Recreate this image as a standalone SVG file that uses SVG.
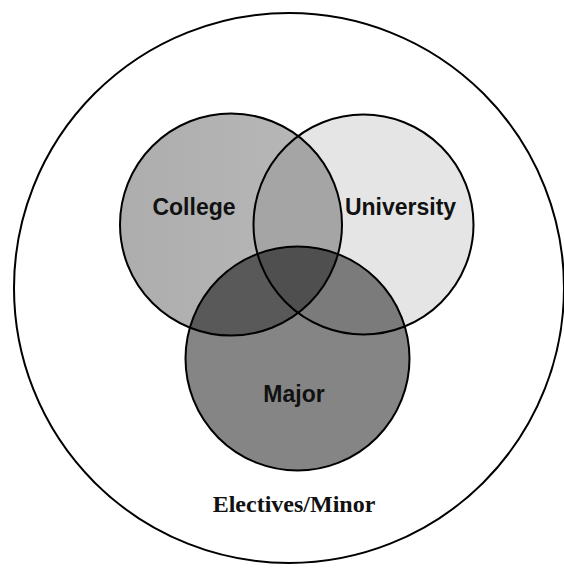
<svg xmlns="http://www.w3.org/2000/svg" width="564" height="568" viewBox="0 0 564 568">
  <style>
    .ring { fill: none; stroke: #000; stroke-width: 2; }
    .lbl { font-family: "Liberation Sans", Arial, sans-serif; font-weight: bold; font-size: 23px; fill: #111; text-anchor: middle; }
    .outer-lbl { font-family: "Liberation Serif", "Times New Roman", serif; font-weight: bold; font-size: 24px; fill: #111; text-anchor: middle; }
  </style>
  <defs>
    <linearGradient id="gCollege" x1="0" y1="0" x2="1" y2="0">
      <stop offset="0" stop-color="#adadad"/>
      <stop offset="1" stop-color="#b9b9b9"/>
    </linearGradient>
    <clipPath id="cC"><circle cx="231" cy="224.5" r="111"/></clipPath>
    <clipPath id="cU"><circle cx="363.5" cy="224.5" r="110"/></clipPath>
    <clipPath id="cM"><circle cx="297.5" cy="358.5" r="112"/></clipPath>
  </defs>
  <rect width="564" height="568" fill="#fff"/>
  <g id="electives">
    <circle cx="289" cy="288" r="275" class="ring"/>
    <text x="294" y="512" class="outer-lbl">Electives/Minor</text>
  </g>
  <g id="college">
    <circle cx="231" cy="224.5" r="111" fill="url(#gCollege)"/>
  </g>
  <g id="university">
    <circle cx="363.5" cy="224.5" r="110" fill="#e5e5e5"/>
    <circle cx="363.5" cy="224.5" r="110" fill="#a5a5a5" clip-path="url(#cC)"/>
  </g>
  <g id="major">
    <circle cx="297.5" cy="358.5" r="112" fill="#858585"/>
    <g clip-path="url(#cM)">
      <circle cx="231" cy="224.5" r="111" fill="#595959"/>
      <circle cx="363.5" cy="224.5" r="110" fill="#7b7b7b"/>
      <g clip-path="url(#cC)">
        <circle cx="363.5" cy="224.5" r="110" fill="#4f4f4f"/>
      </g>
    </g>
  </g>
  <g id="connectors">
    <circle cx="231" cy="224.5" r="111" class="ring"/>
    <circle cx="363.5" cy="224.5" r="110" class="ring"/>
    <circle cx="297.5" cy="358.5" r="112" class="ring"/>
  </g>
  <g id="labels">
    <text x="194" y="215" class="lbl">College</text>
    <text x="400.5" y="215" class="lbl">University</text>
    <text x="294" y="402" class="lbl">Major</text>
  </g>
</svg>
